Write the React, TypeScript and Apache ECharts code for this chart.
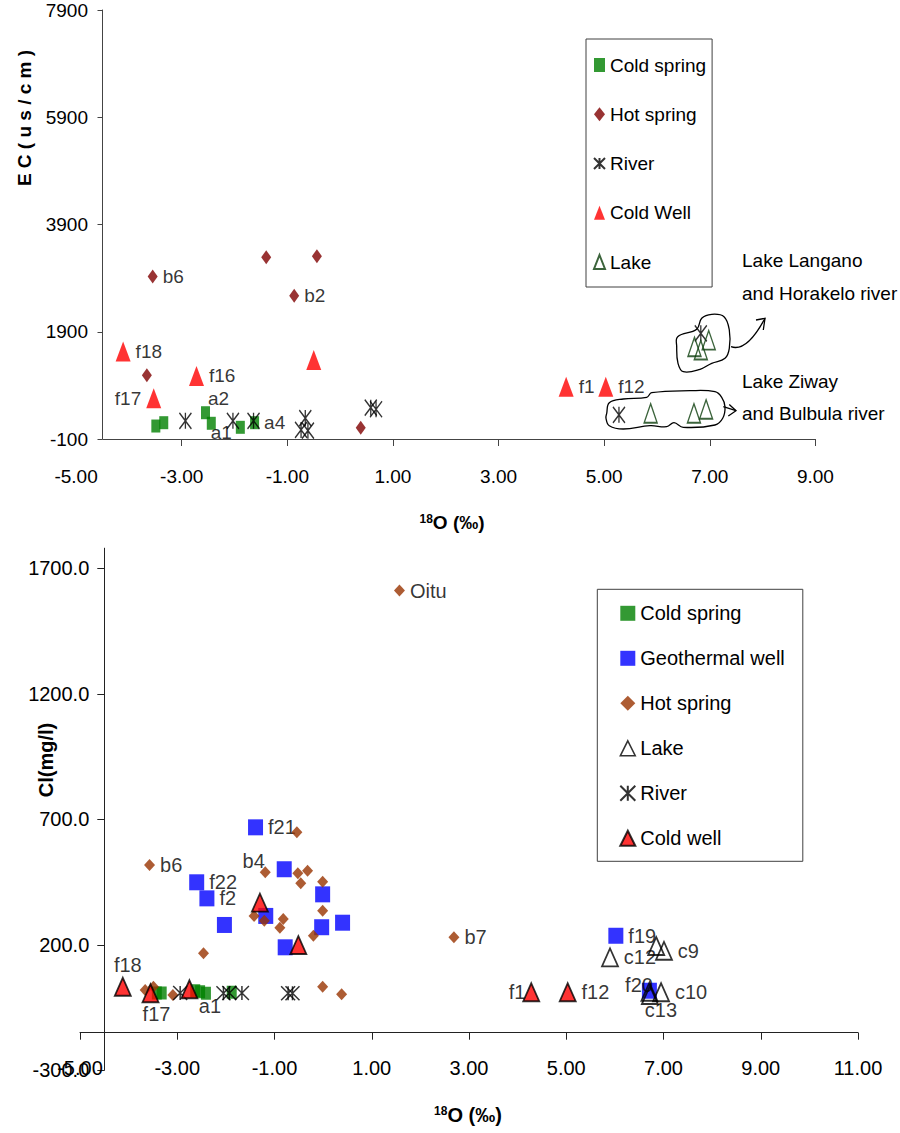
import React, { useEffect, useRef } from 'react';
import * as echarts from 'echarts';

// ---------------- Top chart: EC (us/cm) vs 18O ----------------
const ecXTicks = [-3, -1, 1, 3, 5, 7, 9];
const ecYTicks = [-100, 1900, 3900, 5900, 7900];

const ecColdSpringX = [-3.49, -3.34, -2.55, -2.44, -1.89, -1.62];
const ecColdSpringY = [142, 204, 390, 193, 118, 204];
const ecColdSpringNames = ['', '', 'a2', 'a1', '', 'a4'];

const ecHotSpringX = [-3.55, -1.4, -0.44, -0.87, -3.66, 0.39];
const ecHotSpringY = [2930, 3290, 3310, 2570, 1090, 110];
const ecHotSpringNames = ['b6', '', '', 'b2', '', ''];

const ecRiverX = [-2.93, -2.03, -1.64, -0.66, -0.74, -0.61, 0.58, 0.68, 6.83, 5.28];
const ecRiverY = [240, 240, 240, 290, 70, 55, 485, 455, 1870, 350];

const ecColdWellX = [-4.11, -3.53, -2.72, -0.5, 4.28, 5.03];
const ecColdWellY = [1530, 660, 1075, 1375, 875, 875];
const ecColdWellNames = ['f18', 'f17', 'f16', '', 'f1', 'f12'];

const ecLakeX = [6.71, 6.83, 6.98, 5.88, 6.7, 6.93];
const ecLakeY = [1620, 1560, 1745, 380, 380, 455];

// ---------------- Bottom chart: Cl (mg/l) vs 18O ----------------
const clXTicks = [-5, -3, -1, 1, 3, 5, 7, 9, 11];
const clYTicks = [-300, 200, 700, 1200, 1700];

const clColdSpringX = [-3.42, -3.32, -2.63, -2.53, -2.41, -1.88];
const clColdSpringY = [8, 8, 17, 13, 7, 11];
const clColdSpringNames = ['', '', '', '', 'a1', ''];

const clGeoX = [-1.39, -2.6, -2.39, -2.03, -0.8, -1.18, -0.01, -0.03, 0.4, -0.78, 6.02, 6.71];
const clGeoY = [668, 449, 385, 279, 501, 315, 401, 270, 288, 190, 236, 17];
const clGeoNames = ['f21', 'f22', 'f2', '', '', '', '', '', '', '', 'f19', 'f20'];

const clHotX = [1.57, -3.57, -1.19, -0.54, -0.52, -0.32, -0.46, -0.01, -0.01, -1.42, -1.21, -0.82, -0.89, -0.2, -2.46, 2.69, -0.01, 0.38, -3.66, -3.49, -3.09];
const clHotY = [1611, 518, 489, 648, 485, 495, 445, 451, 336, 315, 296, 303, 268, 236, 166, 230, 33, 3, 20, 33, 0];
const clHotNames = ['Oitu', 'b6', 'b4', '', '', '', '', '', '', '', '', '', '', '', '', 'b7', '', '', '', '', ''];

const clLakeX = [5.9, 6.85, 7.01, 6.95, 6.72, 6.71];
const clLakeY = [150, 195, 176, 11, 0, 13];
const clLakeNames = ['c12', '', 'c9', 'c10', 'c13', ''];

const clRiverX = [-2.94, -2.05, -1.93, -1.67, -0.72, -0.63];
const clRiverY = [8, 7, 8, 8, 7, 7];

const clColdWellX = [-4.12, -3.55, -2.75, -1.3, -0.51, 4.28, 5.03];
const clColdWellY = [33, 7, 23, 368, 199, 11, 11];
const clColdWellNames = ['f18', 'f17', '', '', '', 'f1', 'f12'];

// ---------------- styles ----------------
const ARIAL = "'Liberation Sans', Arial, sans-serif";
const ASTERISK = 'path://M0,0L10,10M10,0L0,10M5,0L5,10';

type Place = { position: string; offset?: [number, number] };
const topPlaces: Record<string, Place> = {
  b6: { position: 'right' },
  b2: { position: 'right' },
  f18: { position: 'right' },
  f16: { position: 'right' },
  f17: { position: 'left' },
  a2: { position: 'right', offset: [-7, -14] },
  a1: { position: 'right', offset: [-10, 9] },
  a4: { position: 'right' },
  f1: { position: 'right' },
  f12: { position: 'right' },
};
const bottomPlaces: Record<string, Place> = {
  Oitu: { position: 'right' },
  f21: { position: 'right' },
  b6: { position: 'right' },
  b4: { position: 'left', offset: [10, -11] },
  f22: { position: 'right' },
  f2: { position: 'right' },
  f18: { position: 'top', offset: [5, 3] },
  f17: { position: 'bottom', offset: [6, -4] },
  a1: { position: 'bottom', offset: [4, -9] },
  b7: { position: 'right' },
  f19: { position: 'right' },
  c12: { position: 'right' },
  c9: { position: 'right' },
  f1: { position: 'left', offset: [8, 0] },
  f12: { position: 'right' },
  f20: { position: 'left', offset: [16, -6] },
  c10: { position: 'right' },
  c13: { position: 'bottom', offset: [11, -10] },
};

function makeData(xs: number[], ys: number[], names: string[] | null, places: Record<string, Place>, font: any) {
  return xs.map((x, i) => {
    const n = names ? names[i] : '';
    const item: any = { value: [x, ys[i]] };
    if (n) {
      const p = places[n] || { position: 'right' };
      item.label = {
        show: true,
        formatter: n,
        position: p.position,
        offset: p.offset || [0, 0],
        distance: 5,
        color: '#000',
        ...font,
      };
    }
    return item;
  });
}

function scatter(name: string, idx: number, data: any[], symbol: string, size: number[], itemStyle: any, z: number, extra: any = {}) {
  return {
    type: 'scatter',
    name,
    xAxisIndex: idx,
    yAxisIndex: idx,
    data,
    symbol,
    symbolSize: size,
    itemStyle,
    z,
    silent: true,
    clip: false,
    label: { show: false },
    emphasis: { disabled: true },
    ...extra,
  };
}

export default function App() {
  const ref = useRef<HTMLDivElement>(null);
  useEffect(() => {
    if (!ref.current) return;
    const chart = echarts.init(ref.current, null, { renderer: 'svg' });
    const topFont = { fontFamily: ARIAL, fontSize: 19 };
    const botFont = { fontFamily: ARIAL, fontSize: 20 };

    const series: any[] = [
      scatter('Cold spring', 0, makeData(ecColdSpringX, ecColdSpringY, ecColdSpringNames, topPlaces, topFont), 'rect', [9, 13], { color: '#008000' }, 2, {
        markLine: {
          silent: true,
          symbol: ['none', 'none'],
          label: { show: false },
          lineStyle: { color: '#444', width: 1, type: 'solid' },
          emphasis: { disabled: true },
          data: [[{ coord: [-4.5, ecYTicks[0]] }, { coord: [ecXTicks[ecXTicks.length - 1], ecYTicks[0]] }]],
        },
      }),
      scatter('Hot spring', 0, makeData(ecHotSpringX, ecHotSpringY, ecHotSpringNames, topPlaces, topFont), 'diamond', [10, 14], { color: '#800000' }, 3),
      scatter('River', 0, makeData(ecRiverX, ecRiverY, null, topPlaces, topFont), ASTERISK, [12, 16], { color: 'transparent', borderColor: '#000', borderWidth: 1.5 }, 4),
      scatter('Cold Well', 0, makeData(ecColdWellX, ecColdWellY, ecColdWellNames, topPlaces, topFont), 'triangle', [15, 20], { color: '#ff0000' }, 5),
      scatter('Lake', 0, makeData(ecLakeX, ecLakeY, null, topPlaces, topFont), 'triangle', [13, 19], { color: 'transparent', borderColor: '#0b3d0b', borderWidth: 1.5 }, 6),

      scatter('Cold spring', 1, makeData(clColdSpringX, clColdSpringY, clColdSpringNames, bottomPlaces, botFont), 'rect', [10, 13], { color: '#008000' }, 2),
      scatter('Geothermal well', 1, makeData(clGeoX, clGeoY, clGeoNames, bottomPlaces, botFont), 'rect', [15, 16], { color: '#0000ff' }, 3),
      scatter('Hot spring', 1, makeData(clHotX, clHotY, clHotNames, bottomPlaces, botFont), 'diamond', [11, 12], { color: '#993300' }, 4),
      scatter('Lake', 1, makeData(clLakeX, clLakeY, clLakeNames, bottomPlaces, botFont), 'triangle', [16, 18], { color: 'transparent', borderColor: '#000', borderWidth: 1.8 }, 5),
      scatter('River', 1, makeData(clRiverX, clRiverY, null, bottomPlaces, botFont), ASTERISK, [14, 14], { color: 'transparent', borderColor: '#000', borderWidth: 1.5 }, 6),
      scatter('Cold well', 1, makeData(clColdWellX, clColdWellY, clColdWellNames, bottomPlaces, botFont), 'triangle', [16, 18], { color: '#ff0000', borderColor: '#000', borderWidth: 1.8 }, 7),
    ];

    const langanoBlob = [[677.7, 336.7], [696.7, 329.3], [701.7, 318.3], [711.7, 314.3], [724, 316.7], [729.3, 330], [729.3, 348.3], [725, 358.3], [711.7, 363.3], [700, 369.3], [683.3, 371.7], [678, 363.3], [676.7, 346.7]];
    const ziwayBlob = [[606.7, 413.3], [609.3, 402.7], [623.3, 399], [646.7, 397.3], [651.7, 392.7], [690, 390.7], [715, 391.7], [721.7, 397.3], [725, 406.7], [722.7, 418.3], [715, 425], [683.3, 427.3], [674, 422.7], [666.7, 426.7], [650, 425.7], [623.3, 429], [609.3, 425.7], [606, 418.3]];
    const lineStyle = { stroke: '#000', lineWidth: 1.3, fill: 'none' };

    const option: any = {
      animation: false,
      backgroundColor: '#fff',
      grid: [
        { left: 76.1, right: 84.6, top: 10, bottom: 694, containLabel: false },
        { left: 80, right: 42, top: 548.2, bottom: 62.7, containLabel: false },
      ],
      xAxis: [
        {
          gridIndex: 0, type: 'value', min: -5, max: 9, interval: 2,
          axisLine: { show: false, onZero: false },
          axisTick: { show: true, length: 7, customValues: ecXTicks, lineStyle: { color: '#444' } },
          axisLabel: { margin: 28, color: '#000', ...topFont, formatter: (v: number) => v.toFixed(2) },
          splitLine: { show: false },
        },
        {
          gridIndex: 1, type: 'value', min: clXTicks[0], max: clXTicks[clXTicks.length - 1], interval: 2, offset: -37.6,
          axisLine: { show: true, onZero: false, lineStyle: { color: '#222', width: 1 } },
          axisTick: { show: true, length: 7, lineStyle: { color: '#222' } },
          axisLabel: { margin: 25, color: '#000', ...botFont, formatter: (v: number) => v.toFixed(2) },
          splitLine: { show: false },
        },
      ],
      yAxis: [
        {
          gridIndex: 0, type: 'value', min: ecYTicks[0], max: ecYTicks[ecYTicks.length - 1], interval: 2000, offset: -26.4,
          axisLine: { show: true, onZero: false, lineStyle: { color: '#444', width: 1 } },
          axisTick: { show: true, length: 5, lineStyle: { color: '#444' } },
          axisLabel: { margin: 14.5, color: '#000', ...topFont, formatter: (v: number) => String(v) },
          splitLine: { show: false },
        },
        {
          gridIndex: 1, type: 'value', min: clYTicks[0], max: 1780, offset: -24.3,
          axisLine: { show: true, onZero: false, lineStyle: { color: '#222', width: 1 } },
          axisTick: { show: true, length: 7, customValues: clYTicks, lineStyle: { color: '#222' } },
          axisLabel: { margin: 15, color: '#000', ...botFont, customValues: clYTicks, formatter: (v: number) => v.toFixed(1) },
          splitLine: { show: false },
        },
      ],
      legend: [
        {
          orient: 'vertical', left: 586, top: 39, padding: [16.5, 6, 15.5, 7], itemGap: 30.25,
          itemWidth: 11, itemHeight: 14, borderColor: '#404040', borderWidth: 1,
          selectedMode: false,
          textStyle: { color: '#000', ...topFont },
          data: ['Cold spring', 'Hot spring', 'River', 'Cold Well', 'Lake'],
        },
        {
          orient: 'vertical', left: 597.3, top: 589.3, padding: [14, 18, 13, 22], itemGap: 25,
          itemWidth: 15, itemHeight: 15, borderColor: '#404040', borderWidth: 1,
          selectedMode: false,
          textStyle: { color: '#000', ...botFont },
          data: [
            'Cold spring',
            'Geothermal well',
            { name: 'Hot spring', itemStyle: { color: '#993300' } },
            { name: 'Lake', itemStyle: { color: 'transparent', borderColor: '#000', borderWidth: 1.5 } },
            'River',
            'Cold well',
          ],
        },
      ],
      graphic: [
        { type: 'text', x: 24, y: 118, rotation: Math.PI / 2, silent: true,
          style: { text: 'E C ( u s / c m )', fontFamily: ARIAL, fontSize: 19, fontWeight: 'bold', fill: '#000', align: 'center', verticalAlign: 'middle' } },
        { type: 'text', x: 452, y: 522, silent: true,
          style: { text: '{s|18}{b|O (‰)}', align: 'center', verticalAlign: 'middle', fill: '#000',
            rich: { s: { fontFamily: ARIAL, fontSize: 12, fontWeight: 'bold', verticalAlign: 'top' }, b: { fontFamily: ARIAL, fontSize: 19, fontWeight: 'bold' } } } },
        { type: 'text', x: 46, y: 760, rotation: Math.PI / 2, silent: true,
          style: { text: 'Cl(mg/l)', fontFamily: ARIAL, fontSize: 20, fontWeight: 'bold', fill: '#000', align: 'center', verticalAlign: 'middle' } },
        { type: 'text', x: 468, y: 1115, silent: true,
          style: { text: '{s|18}{b|O (‰)}', align: 'center', verticalAlign: 'middle', fill: '#000',
            rich: { s: { fontFamily: ARIAL, fontSize: 12, fontWeight: 'bold', verticalAlign: 'top' }, b: { fontFamily: ARIAL, fontSize: 20, fontWeight: 'bold' } } } },
        { type: 'text', x: 742, y: 260, silent: true, style: { text: 'Lake Langano', fontFamily: ARIAL, fontSize: 19, fill: '#000', verticalAlign: 'middle' } },
        { type: 'text', x: 742, y: 293, silent: true, style: { text: 'and Horakelo river', fontFamily: ARIAL, fontSize: 19, fill: '#000', verticalAlign: 'middle' } },
        { type: 'text', x: 742, y: 381, silent: true, style: { text: 'Lake Ziway', fontFamily: ARIAL, fontSize: 19, fill: '#000', verticalAlign: 'middle' } },
        { type: 'text', x: 742, y: 413, silent: true, style: { text: 'and Bulbula river', fontFamily: ARIAL, fontSize: 19, fill: '#000', verticalAlign: 'middle' } },
        { type: 'polygon', silent: true, shape: { points: langanoBlob, smooth: 0.4 }, style: lineStyle },
        { type: 'polygon', silent: true, shape: { points: ziwayBlob, smooth: 0.4 }, style: lineStyle },
        { type: 'bezierCurve', silent: true, shape: { x1: 731, y1: 346.7, cpx1: 743, cpy1: 351, cpx2: 755, cpy2: 337, x2: 765, y2: 318.3 }, style: lineStyle },
        { type: 'polyline', silent: true, shape: { points: [[756, 320], [765, 318.3], [763.3, 330]] }, style: lineStyle },
        { type: 'line', silent: true, shape: { x1: 723.3, y1: 406.7, x2: 736, y2: 410.7 }, style: lineStyle },
        { type: 'polyline', silent: true, shape: { points: [[729.3, 404.5], [736, 410.7], [728.3, 416]] }, style: lineStyle },
      ],
      series,
    };
    chart.setOption(option);
    return () => chart.dispose();
  }, []);
  return <div ref={ref} style={{ position: 'fixed', left: 0, top: 0, width: 900, height: 1133 }} />;
}
